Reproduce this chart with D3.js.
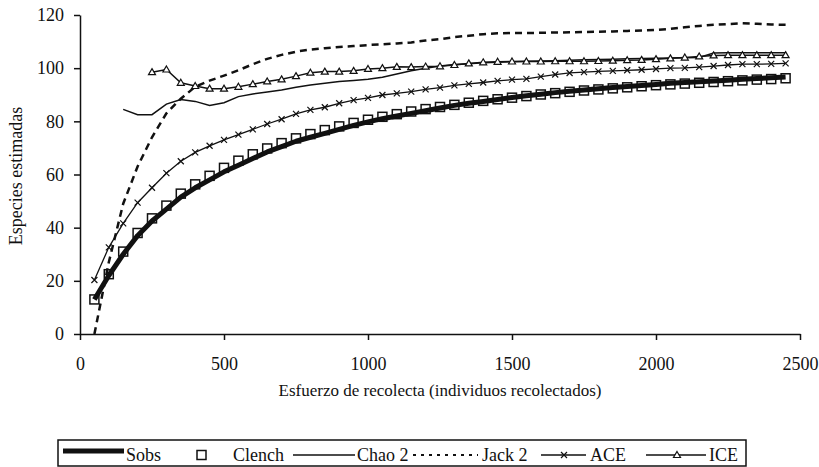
<!DOCTYPE html>
<html lang="es">
<head>
  <meta charset="UTF-8" />
  <title>Curvas de acumulación de especies</title>
  <script src="https://d3js.org/d3.v7.min.js"></script>
  <style>
    body { margin: 0; background: #fff; }
    text { font-family: "Liberation Serif", "Times New Roman", serif; fill: #111; }
  </style>
</head>
<body>
  <svg id="chart" width="819" height="467"></svg>

  <script>
    // individuos recolectados (eje x)
    const effort = [50, 100, 150, 200, 250, 300, 350, 400, 450, 500,
      550, 600, 650, 700, 750, 800, 850, 900, 950, 1000,
      1050, 1100, 1150, 1200, 1250, 1300, 1350, 1400, 1450, 1500,
      1550, 1600, 1650, 1700, 1750, 1800, 1850, 1900, 1950, 2000,
      2050, 2100, 2150, 2200, 2250, 2300, 2350, 2400, 2450];

    const sobs = [13, 22, 30, 37, 42.5, 47, 51.5, 55, 58, 61,
      63.5, 66, 68.5, 70.5, 72.5, 74, 75.5, 77, 78.5, 79.8,
      81, 82, 83, 84, 85, 86, 86.8, 87.5, 88.2, 89,
      89.6, 90.2, 90.8, 91.3, 91.8, 92.3, 92.7, 93.1, 93.5, 93.9,
      94.3, 94.6, 94.9, 95.2, 95.5, 95.8, 96.1, 96.4, 96.7];

    const clench = [13, 22.5, 31, 38, 43.5, 48.3, 52.8, 56.3, 59.5, 62.5,
      65.2, 67.6, 69.8, 71.8, 73.6, 75.2, 76.7, 78.1, 79.4, 80.6,
      81.7, 82.7, 83.7, 84.6, 85.4, 86.2, 87, 87.7, 88.3, 88.9,
      89.5, 90.1, 90.6, 91.1, 91.6, 92, 92.4, 92.8, 93.2, 93.6,
      93.9, 94.2, 94.5, 94.8, 95.1, 95.4, 95.7, 95.9, 96.2];

    const chao2 = [null, null, 84.5, 82.5, 82.5, 86.5, 88.2, 87.5, 86, 87,
      89.3, 90.3, 91, 91.8, 92.8, 93.7, 94.3, 95, 95.4, 95.8,
      96.6, 97.8, 99, 100, 100.8, 101.4, 101.7, 102, 102.2, 102.4,
      102.6, 102.7, 102.8, 103, 103.2, 103.3, 103.4, 103.5, 103.6, 103.7,
      103.8, 103.9, 104, 105.7, 105.8, 105.8, 105.8, 105.8, 105.8];

    const jack2 = [0, 27, 49, 63, 74, 83, 88.5, 93, 95.3, 97.2,
      99.2, 101.5, 103.5, 105, 106.2, 107, 107.5, 108, 108.3, 108.7,
      109, 109.3, 109.7, 110.4, 110.9, 111.7, 112.2, 112.8, 113.1, 113.2,
      113.2, 113.3, 113.4, 113.5, 113.6, 113.7, 113.8, 114, 114.2, 114.4,
      114.8, 115.4, 115.9, 116.3, 116.6, 116.9, 116.7, 116.4, 116.3];

    const ace = [20.3, 32.6, 41.6, 49.4, 55, 60.5, 65, 68.3, 70.8, 73,
      75, 77, 79, 80.8, 82.8, 84.3, 85.3, 86.8, 88, 88.8,
      89.9, 90.5, 91.2, 92, 92.7, 93.5, 94.1, 94.6, 95.2, 95.7,
      96, 96.8, 97.6, 98.2, 98.5, 98.8, 99, 99.2, 99.4, 99.7,
      100, 100.1, 100.4, 100.8, 101.2, 101.5, 101.5, 101.6, 101.8];

    const ice = [null, null, null, null, 98.5, 99.5, 94.5, 93.3, 92.3, 92.3,
      93, 94, 95, 95.8, 97, 98.3, 98.7, 98.7, 99, 99.7,
      100, 100.5, 100.4, 100.6, 100.7, 101.2, 101.8, 102.2, 102.4, 102.5,
      102.5, 102.5, 102.6, 102.6, 102.6, 102.7, 102.8, 103, 103.1, 103.4,
      103.7, 104, 104.4, 104.8, 104.9, 104.9, 104.9, 104.9, 104.9];

    const xTicks = [0, 500, 1000, 1500, 2000, 2500];
    const yTicks = [0, 20, 40, 60, 80, 100, 120];

    const ink = "#111";
    const svg = d3.select("#chart");

    const x = d3.scaleLinear().domain([0, 2500]).range([80, 800]);
    const y = d3.scaleLinear().domain([0, 120]).range([334, 15]);

    const pts = vals => effort.map((e, i) => ({ x: e, y: vals[i] })).filter(d => d.y != null);
    const line = d3.line().x(d => x(d.x)).y(d => y(d.y));

    // ejes
    const gx = svg.append("g")
      .attr("transform", "translate(0,334)")
      .call(d3.axisBottom(x).tickValues(xTicks).tickFormat(d3.format("d"))
        .tickSize(6).tickSizeOuter(0).tickPadding(17));
    const gy = svg.append("g")
      .attr("transform", "translate(80,0)")
      .call(d3.axisLeft(y).tickValues(yTicks).tickFormat(d3.format("d"))
        .tickSize(6).tickSizeOuter(0).tickPadding(10));
    [gx, gy].forEach(g => {
      g.select(".domain").attr("stroke", ink).attr("stroke-width", 1.5);
      g.selectAll(".tick line").attr("stroke", ink).attr("stroke-width", 1.5);
      g.selectAll(".tick text").attr("font-size", 18).attr("font-family", "Liberation Serif").attr("fill", ink);
    });

    svg.append("text")
      .attr("x", 440).attr("y", 396)
      .attr("text-anchor", "middle")
      .attr("font-size", 17)
      .text("Esfuerzo de recolecta (individuos recolectados)");

    svg.append("text")
      .attr("transform", "translate(22,176) rotate(-90)")
      .attr("text-anchor", "middle")
      .attr("font-size", 18)
      .text("Especies estimadas");

    // series
    const plot = svg.append("g");

    plot.append("path").datum(pts(jack2))
      .attr("d", line).attr("fill", "none")
      .attr("stroke", ink).attr("stroke-width", 2.5).attr("stroke-dasharray", "7,5");

    plot.append("path").datum(pts(chao2))
      .attr("d", line).attr("fill", "none")
      .attr("stroke", ink).attr("stroke-width", 1.5);

    plot.append("path").datum(pts(ace))
      .attr("d", line).attr("fill", "none")
      .attr("stroke", ink).attr("stroke-width", 1.3);
    plot.append("g").selectAll("path").data(pts(ace)).join("path")
      .attr("d", "M-3,-3L3,3M-3,3L3,-3")
      .attr("transform", d => `translate(${x(d.x)},${y(d.y)})`)
      .attr("stroke", ink).attr("stroke-width", 1.2);

    plot.append("path").datum(pts(ice))
      .attr("d", line).attr("fill", "none")
      .attr("stroke", ink).attr("stroke-width", 1.5);
    plot.append("g").selectAll("path").data(pts(ice)).join("path")
      .attr("d", "M0,-3.5L3.5,2.5L-3.5,2.5Z")
      .attr("transform", d => `translate(${x(d.x)},${y(d.y)})`)
      .attr("fill", "#fff").attr("stroke", ink).attr("stroke-width", 1.2);

    plot.append("path").datum(pts(sobs))
      .attr("d", line).attr("fill", "none")
      .attr("stroke", ink).attr("stroke-width", 5).attr("stroke-linejoin", "round");

    plot.append("g").selectAll("rect").data(pts(clench)).join("rect")
      .attr("x", d => x(d.x) - 4.5).attr("y", d => y(d.y) - 4.5)
      .attr("width", 9).attr("height", 9)
      .attr("fill", "none").attr("stroke", ink).attr("stroke-width", 1.5);

    // leyenda
    const lg = svg.append("g");
    lg.append("rect")
      .attr("x", 58).attr("y", 440).attr("width", 688).attr("height", 26)
      .attr("fill", "#fff").attr("stroke", ink).attr("stroke-width", 1.5);

    const ly = 455, ty = 461;
    const label = (tx, s) => lg.append("text").attr("x", tx).attr("y", ty).attr("font-size", 18).text(s);

    lg.append("line").attr("x1", 63).attr("x2", 124).attr("y1", 451).attr("y2", 451)
      .attr("stroke", ink).attr("stroke-width", 5);
    label(126, "Sobs");

    lg.append("rect").attr("x", 197).attr("y", ly - 4.5).attr("width", 9).attr("height", 9)
      .attr("fill", "none").attr("stroke", ink).attr("stroke-width", 1.5);
    label(233, "Clench");

    lg.append("line").attr("x1", 293).attr("x2", 355).attr("y1", ly).attr("y2", ly)
      .attr("stroke", ink).attr("stroke-width", 1.5);
    label(357, "Chao 2");

    lg.append("line").attr("x1", 413).attr("x2", 478).attr("y1", ly).attr("y2", ly)
      .attr("stroke", ink).attr("stroke-width", 2).attr("stroke-dasharray", "3,5");
    label(482, "Jack 2");

    lg.append("line").attr("x1", 541).attr("x2", 586).attr("y1", ly).attr("y2", ly)
      .attr("stroke", ink).attr("stroke-width", 1.3);
    lg.append("path").attr("d", "M-3,-3L3,3M-3,3L3,-3")
      .attr("transform", `translate(564,${ly})`).attr("stroke", ink).attr("stroke-width", 1.2);
    label(590, "ACE");

    lg.append("line").attr("x1", 646).attr("x2", 706).attr("y1", ly).attr("y2", ly)
      .attr("stroke", ink).attr("stroke-width", 1.5);
    lg.append("path").attr("d", "M0,-3.5L3.5,2.5L-3.5,2.5Z")
      .attr("transform", `translate(677,${ly})`)
      .attr("fill", "#fff").attr("stroke", ink).attr("stroke-width", 1.2);
    label(709, "ICE");
  </script>
</body>
</html>
